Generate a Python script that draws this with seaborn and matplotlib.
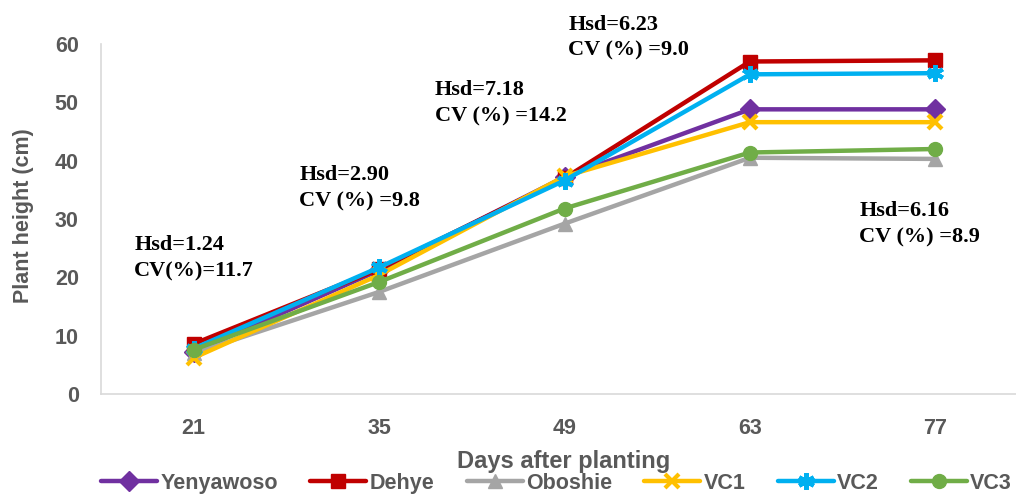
import numpy as np
import pandas as pd
import matplotlib
matplotlib.use('Agg')
import matplotlib.pyplot as plt
import seaborn as sns

# data
days = ['21', '35', '49', '63', '77']
yenyawoso = [7.2, 21.2, 37.2, 48.8, 48.8]
dehye = [8.6, 21.4, 37.0, 57.0, 57.2]
oboshie = [7.0, 17.5, 29.2, 40.5, 40.3]
vc1 = [6.2, 20.4, 37.3, 46.6, 46.6]
vc2 = [7.8, 21.7, 36.6, 54.8, 55.0]
vc3 = [7.6, 19.2, 31.8, 41.4, 42.0]

series_names = ['Yenyawoso', 'Dehye', 'Oboshie', 'VC1', 'VC2', 'VC3']
series_values = [yenyawoso, dehye, oboshie, vc1, vc2, vc3]
colors = ['#7030A0', '#C00000', '#A5A5A5', '#FFC000', '#00B0F0', '#70AD47']
markers = ['D', 's', '^', 'x', (6, 2, 0), 'o']
msizes = [10, 10, 10, 10, 12, 10]

annot_text = ['Hsd=1.24\nCV(%)=11.7', 'Hsd=2.90\nCV (%) =9.8', 'Hsd=7.18\nCV (%) =14.2',
              'Hsd=6.23\nCV (%) =9.0', 'Hsd=6.16\nCV (%) =8.9']
annot_x = [-0.32, 0.57, 1.30, 2.02, 3.59]
annot_y = [27.2, 39.2, 53.8, 65.0, 33.0]

sns.set_style('white')
plt.rcParams['font.family'] = ['Liberation Sans', 'DejaVu Sans']
gray_text = '#595959'

fig = plt.figure(figsize=(10.16, 4.95), dpi=100)
ax = fig.add_axes([101 / 1016, 101 / 495, (1028 - 101) / 1016, (394 - 44) / 495])

xpos = np.arange(len(days))
for name, vals, c, m, ms in zip(series_names, series_values, colors, markers, msizes):
    df = pd.DataFrame({'x': xpos, 'y': vals})
    sns.lineplot(data=df, x='x', y='y', ax=ax, color=c, linewidth=3.2,
                 marker=m, markersize=ms, markeredgewidth=3 if m in ('x', (6, 2, 0)) else 1,
                 markeredgecolor=c, markerfacecolor=c, label=name, legend=False)

for t, x, y in zip(annot_text, annot_x, annot_y):
    ax.text(x, y, t, ha='left', va='top', fontsize=16, fontweight='bold',
            family=['Liberation Serif', 'DejaVu Serif'], linespacing=1.4,
            color='black', clip_on=False)

ax.set_xlim(-0.5, 4.5)
ax.set_ylim(0, 60)
ax.set_xticks(xpos)
ax.set_xticklabels(days)
ax.set_yticks(range(0, 61, 10))
ax.tick_params(axis='both', length=0, labelsize=15.5, labelcolor=gray_text)
for lab in ax.get_xticklabels() + ax.get_yticklabels():
    lab.set_fontweight('bold')
ax.tick_params(axis='x', pad=17)
ax.tick_params(axis='y', pad=16)

for s in ['top', 'right']:
    ax.spines[s].set_visible(False)
for s in ['left', 'bottom']:
    ax.spines[s].set_color('#D9D9D9')
    ax.spines[s].set_linewidth(1.2)

ax.set_xlabel('Days after planting', fontsize=17, fontweight='bold', color=gray_text)
ax.set_ylabel('Plant height (cm)', fontsize=15.5, fontweight='bold', color=gray_text)
ax.xaxis.set_label_coords((564 - 101) / 927, -0.16)
ax.yaxis.set_label_coords(-0.072, 0.51)

handles, labels = ax.get_legend_handles_labels()
leg = fig.legend(handles, labels, loc='center', bbox_to_anchor=(0.548, 0.024), ncol=6,
                 frameon=False, handlelength=2.6, columnspacing=1.5, handletextpad=0.15,
                 prop={'size': 15.5, 'weight': 'bold'})
for txt in leg.get_texts():
    txt.set_color(gray_text)

fig.savefig('out.png', dpi=100)
